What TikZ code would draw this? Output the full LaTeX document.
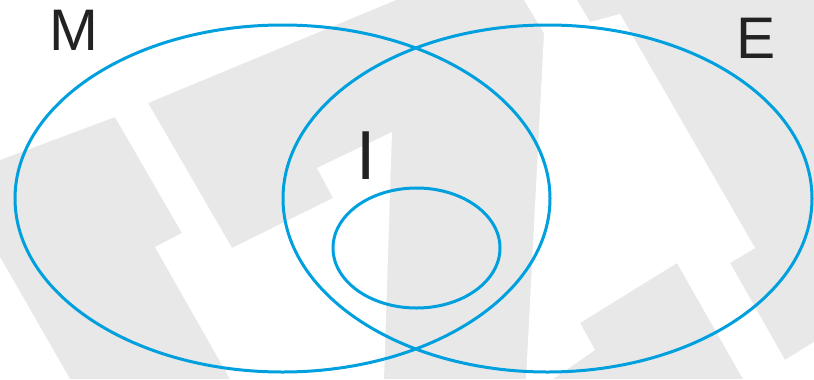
\documentclass[tikz,border=0pt]{standalone}
\usepackage{fontspec}
\setmainfont{Liberation Sans}

\begin{document}
\tikzset{every picture/.style={line width=0.75pt}}

\begin{tikzpicture}[x=0.75pt,y=0.75pt,yscale=-1,xscale=1]
\useasboundingbox (0,0) rectangle (814,379);

%Background
\fill [fill={rgb, 255:red, 232; green, 232; blue, 232 }  ,fill opacity=1 ] (0,0) rectangle (814,379) ;
%Polygon (white, left)
\fill [fill={rgb, 255:red, 255; green, 255; blue, 255 }  ,fill opacity=1 ] (0,0) -- (396,0) -- (148,103) -- (232,248) -- (333,198) -- (317,168) -- (392,132) -- (384,379) -- (230,379) -- (155,247) -- (182,233) -- (115,117) -- (0,160) -- cycle ;
%Polygon (white, corner)
\fill [fill={rgb, 255:red, 255; green, 255; blue, 255 }  ,fill opacity=1 ] (0,257) -- (70,379) -- (0,379) -- cycle ;
%Polygon (white, right)
\fill [fill={rgb, 255:red, 255; green, 255; blue, 255 }  ,fill opacity=1 ] (524,0) -- (577,0) -- (590,22) -- (620,14) -- (755,248) -- (730,263) -- (785,360) -- (814,342) -- (814,379) -- (743,379) -- (677,263) -- (580,323) -- (595,350) -- (553,379) -- (526,379) -- (544,33) -- cycle ;

%Shape: Ellipse M
\draw  [color={rgb, 255:red, 0; green, 160; blue, 222 }  ,draw opacity=1 ][line width=2.25]  (15,198.5) .. controls (15,102.68) and (134.76,25) .. (282.5,25) .. controls (430.24,25) and (550,102.68) .. (550,198.5) .. controls (550,294.32) and (430.24,372) .. (282.5,372) .. controls (134.76,372) and (15,294.32) .. (15,198.5) -- cycle ;
%Shape: Ellipse E
\draw  [color={rgb, 255:red, 0; green, 160; blue, 222 }  ,draw opacity=1 ][line width=2.25]  (283,198.5) .. controls (283,102.68) and (401.42,25) .. (547.5,25) .. controls (693.58,25) and (812,102.68) .. (812,198.5) .. controls (812,294.32) and (693.58,372) .. (547.5,372) .. controls (401.42,372) and (283,294.32) .. (283,198.5) -- cycle ;
%Shape: Ellipse (inner)
\draw  [color={rgb, 255:red, 0; green, 160; blue, 222 }  ,draw opacity=1 ][line width=2.25]  (333,248) .. controls (333,214.86) and (370.38,188) .. (416.5,188) .. controls (462.62,188) and (500,214.86) .. (500,248) .. controls (500,281.14) and (462.62,308) .. (416.5,308) .. controls (370.38,308) and (333,281.14) .. (333,248) -- cycle ;

% Text Node
\draw (73.5,50) node (lblM) [anchor=base][inner sep=0pt][color={rgb, 255:red, 34; green, 34; blue, 34 }]  {\fontsize{44}{48}\selectfont M};
% Text Node
\draw (756,58) node (lblE) [anchor=base][inner sep=0pt][color={rgb, 255:red, 34; green, 34; blue, 34 }]  {\fontsize{44}{48}\selectfont E};
% Text Node
\draw (366,179) node (lblI) [anchor=base][inner sep=0pt][color={rgb, 255:red, 34; green, 34; blue, 34 }]  {\fontsize{52}{56}\selectfont I};

\end{tikzpicture}
\end{document}
